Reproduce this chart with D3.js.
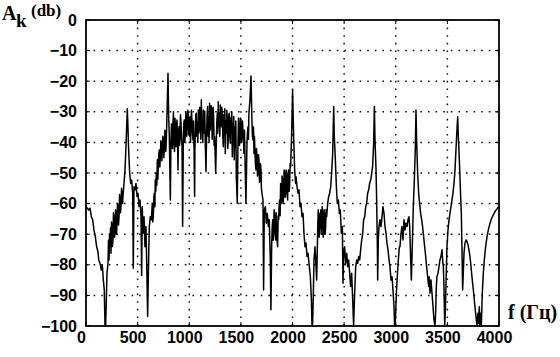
<!DOCTYPE html>
<html>
<head>
<meta charset="utf-8">
<script src="https://cdn.jsdelivr.net/npm/d3@7"></script>
<style>
  body { margin: 0; background: #fff; }
  .tick text { font-family: "Liberation Sans", Arial, sans-serif; font-weight: bold; font-size: 16px; fill: #000; }
  .label { font-family: "Liberation Serif", "Times New Roman", serif; font-weight: bold; fill: #000; }
</style>
</head>
<body>
<div id="chart"></div>
<script>
var svgWidth = 560;
var svgHeight = 357;

var margin = {top: 20, right: 61, bottom: 31, left: 86};
var width = svgWidth - margin.left - margin.right;
var height = svgHeight - margin.top - margin.bottom;

// tick values
var xTicks = [0, 500, 1000, 1500, 2000, 2500, 3000, 3500, 4000];
var yTicks = [0, -10, -20, -30, -40, -50, -60, -70, -80, -90, -100];

// spectrum, [frequency Hz, level dB]
var lowBand = [[0,-61.0],[13,-61.5],[26,-62.1],[39,-61.5],[52,-64.3],[65,-65.3],[77,-68.6],[90,-70.8],[103,-74.1],[116,-75.7],[123,-78.4],[136,-79.5],[148,-81.7],[158,-80.0],[168,-85.0],[177,-88.2],[184,-99.7],[190,-100],[197,-91.5],[203,-82.8],[213,-79.5],[218,-72.0],[223,-78.4],[228,-70.0],[232,-74.1],[237,-68.0],[242,-76.2],[247,-66.0],[252,-67.5],[256,-74.0],[261,-71.9],[266,-63.0],[271,-64.3],[276,-71.0],[281,-69.7],[286,-62.0],[291,-63.2],[296,-70.0],[300,-66.4],[305,-60.0],[310,-61.0],[315,-67.0],[320,-64.3],[325,-57.0],[329,-58.8],[334,-63.0],[339,-61.0],[344,-55.0],[349,-56.6],[354,-60.0],[358,-57.7],[368,-53.4],[378,-49.0],[387,-41.4],[394,-34.9],[400,-28.9],[407,-35.9],[413,-42.5],[423,-50.1],[433,-53.4],[442,-52.3],[452,-56.6],[458,-81.1],[465,-54.5],[475,-55.5],[484,-53.4],[494,-57.7],[504,-56.6],[513,-61.0],[523,-58.8],[533,-64.3],[539,-83.5],[545,-61.0],[552,-69.7],[562,-64.3],[571,-74.1],[581,-67.5],[591,-85.0],[597,-96.9],[604,-82.8],[613,-67.5],[623,-64.3],[633,-65.3],[642,-59.9],[647,-66.0],[652,-64.3],[657,-58.0],[662,-56.6],[667,-61.0],[671,-52.3],[676,-56.0],[681,-50.1],[686,-54.0],[691,-45.7],[696,-52.0],[700,-47.9],[705,-44.0],[710,-42.5],[715,-48.0],[720,-44.7],[725,-39.5],[730,-40.3],[735,-46.0],[739,-42.5],[744,-38.0],[749,-39.2],[754,-45.0],[759,-41.4],[764,-36.0],[768,-37.0],[773,-43.0],[778,-39.2],[788,-26.1],[794,-17.4],[800,-30.5],[807,-38.1],[817,-58.8],[823,-39.2],[828,-34.0],[833,-37.0],[838,-42.0],[842,-33.8],[847,-30.0],[852,-39.2],[857,-43.0],[862,-32.1],[867,-36.0],[872,-41.4],[876,-35.0],[881,-32.7],[886,-38.0],[891,-49.0],[896,-37.0],[901,-34.9],[905,-41.0],[910,-39.2],[915,-31.0],[920,-33.8],[925,-38.5],[930,-41.4],[936,-67.5],[943,-38.1],[947,-34.0],[952,-32.7],[957,-40.0],[962,-37.0],[967,-30.0],[972,-31.6],[976,-38.0],[981,-34.9],[986,-29.5],[991,-30.5],[996,-37.5]];

var midBand = [[1001,-33.8],[1004,-38.0],[1007,-31.6],[1012,-40.0],[1017,-34.9],[1021,-29.5],[1026,-32.7],[1031,-37.0],[1036,-39.2],[1041,-33.0],[1046,-41.4],[1052,-57.7],[1055,-42.0],[1059,-37.0],[1063,-31.0],[1068,-30.5],[1073,-38.0],[1078,-33.8],[1083,-40.0],[1088,-29.4],[1092,-37.0],[1097,-35.9],[1102,-28.5],[1107,-30.5],[1112,-39.0],[1117,-26.1],[1121,-36.0],[1126,-33.8],[1131,-40.0],[1136,-29.4],[1141,-37.0],[1146,-34.9],[1150,-29.8],[1155,-40.3],[1162,-49.6],[1168,-37.0],[1173,-31.0],[1178,-28.3],[1183,-38.0],[1188,-31.6],[1192,-40.0],[1197,-27.2],[1202,-36.0],[1207,-33.8],[1212,-28.0],[1217,-29.4],[1222,-39.0],[1227,-34.9],[1231,-28.5],[1236,-31.6],[1241,-41.0],[1246,-38.1],[1256,-50.1],[1262,-40.3],[1267,-33.0],[1272,-30.5],[1276,-37.0],[1281,-26.7],[1286,-35.0],[1291,-30.5],[1296,-38.0],[1301,-27.8],[1305,-33.0],[1310,-34.9],[1315,-28.5],[1320,-30.5],[1325,-38.0],[1330,-41.4],[1335,-31.0],[1340,-34.9],[1344,-29.0],[1349,-43.6],[1354,-33.0],[1359,-37.0],[1364,-29.5],[1369,-32.7],[1373,-42.0],[1378,-39.2],[1383,-31.0],[1388,-30.5],[1393,-38.0],[1398,-40.3],[1402,-32.0],[1407,-35.9],[1412,-30.0],[1417,-44.7],[1422,-34.0],[1427,-38.1],[1431,-31.5],[1436,-45.7],[1441,-35.0],[1446,-41.4],[1451,-33.0],[1456,-51.2],[1465,-59.9],[1472,-40.3],[1477,-32.0],[1482,-34.9],[1486,-41.0],[1491,-39.2],[1496,-32.0],[1501,-33.8],[1506,-40.0],[1511,-38.1],[1515,-33.0],[1520,-35.9],[1525,-39.0],[1530,-43.6],[1535,-36.0],[1540,-45.7],[1549,-59.9],[1559,-40.3],[1564,-37.0],[1569,-34.9],[1573,-39.0],[1578,-30.5],[1588,-26.1],[1598,-18.3],[1607,-32.7],[1612,-38.0],[1617,-39.2],[1622,-35.0],[1627,-43.6],[1631,-38.0],[1636,-42.5],[1641,-47.0],[1646,-49.0],[1651,-42.0],[1656,-44.7],[1661,-51.0],[1666,-50.1],[1670,-44.0],[1675,-45.7],[1680,-53.0],[1685,-52.3],[1690,-47.0],[1695,-49.0],[1699,-55.0],[1704,-56.6],[1714,-58.8],[1720,-88.2],[1727,-62.1],[1737,-61.0],[1746,-66.4],[1756,-63.2],[1766,-67.5],[1775,-65.3],[1785,-78.4],[1791,-94.7],[1798,-74.1],[1803,-68.0],[1808,-65.3],[1812,-72.0],[1817,-69.7],[1822,-62.0],[1827,-64.3],[1832,-70.0],[1837,-71.9],[1841,-63.0],[1846,-67.5],[1851,-72.0],[1856,-74.1],[1861,-64.0],[1866,-65.3],[1870,-61.0],[1875,-58.8],[1880,-64.0],[1885,-53.4],[1890,-60.0],[1895,-58.8],[1899,-51.0],[1904,-52.3],[1909,-60.0],[1914,-56.6],[1919,-49.0],[1924,-50.1],[1928,-58.0],[1933,-56.6],[1938,-49.0],[1943,-51.2],[1948,-57.0],[1953,-58.8],[1957,-50.0],[1962,-49.0],[1967,-56.0],[1972,-54.5],[1977,-47.0],[1982,-47.9],[1991,-38.1],[2001,-22.9],[2011,-38.1],[2021,-49.0],[2030,-53.4]];

var highBand = [[2034,-51.2],[2044,-54.5],[2053,-56.6],[2063,-55.5],[2073,-61.0],[2082,-59.9],[2092,-64.3],[2102,-63.2],[2111,-69.7],[2121,-74.1],[2131,-72.9],[2141,-77.3],[2150,-76.2],[2163,-80.6],[2173,-83.9],[2183,-91.5],[2189,-100],[2195,-99.1],[2202,-89.3],[2208,-78.4],[2218,-74.1],[2228,-80.6],[2234,-85.0],[2244,-68.8],[2249,-62.0],[2254,-66.4],[2258,-71.0],[2263,-63.2],[2268,-68.0],[2273,-62.1],[2278,-70.0],[2283,-67.5],[2287,-61.0],[2292,-63.2],[2297,-71.0],[2302,-69.7],[2307,-62.0],[2312,-64.3],[2316,-70.0],[2321,-67.5],[2326,-62.0],[2331,-64.3],[2341,-59.9],[2350,-57.7],[2360,-56.6],[2370,-54.5],[2379,-50.1],[2389,-43.6],[2399,-28.3],[2405,-38.1],[2415,-45.7],[2425,-54.5],[2434,-59.9],[2444,-58.8],[2454,-63.2],[2463,-62.1],[2473,-69.7],[2483,-67.5],[2489,-86.0],[2496,-76.2],[2505,-74.1],[2515,-79.5],[2525,-76.2],[2534,-80.6],[2544,-78.4],[2554,-82.8],[2563,-87.1],[2573,-82.8],[2583,-91.5],[2592,-100],[2602,-89.3],[2612,-80.6],[2622,-78.4],[2631,-79.5],[2641,-77.3],[2651,-78.4],[2660,-75.1],[2670,-71.9],[2680,-69.7],[2689,-65.3],[2699,-64.3],[2709,-61.0],[2718,-59.9],[2728,-56.6],[2738,-55.5],[2747,-53.4],[2757,-52.3],[2767,-50.1],[2776,-47.9],[2786,-40.3],[2793,-28.3],[2799,-39.2],[2809,-49.0],[2815,-58.8],[2822,-74.1],[2825,-85.0],[2831,-71.9],[2838,-67.5],[2847,-65.3],[2857,-67.5],[2867,-64.3],[2876,-61.0],[2886,-63.2],[2896,-67.5],[2906,-69.7],[2915,-73.0],[2925,-75.1],[2935,-78.4],[2944,-80.6],[2954,-85.0],[2964,-83.9],[2973,-88.2],[2983,-93.7],[2989,-100],[2996,-99.1],[3006,-89.3],[3015,-83.9],[3025,-78.4],[3035,-74.1]];

var topBand = [[3041,-74.1],[3051,-69.7],[3060,-67.5],[3070,-71.9],[3080,-65.3],[3089,-68.6],[3099,-66.4],[3109,-67.5],[3118,-65.3],[3128,-64.3],[3135,-67.5],[3141,-74.1],[3151,-85.0],[3160,-74.1],[3170,-61.0],[3180,-52.3],[3190,-41.4],[3196,-29.4],[3202,-39.2],[3212,-50.1],[3222,-56.6],[3231,-59.9],[3241,-63.2],[3251,-65.3],[3260,-67.5],[3270,-70.8],[3280,-74.1],[3290,-77.3],[3299,-80.6],[3309,-83.9],[3319,-87.1],[3325,-83.9],[3332,-89.3],[3341,-85.0],[3351,-89.3],[3361,-93.7],[3370,-98.0],[3380,-100],[3386,-95.8],[3393,-87.1],[3399,-83.9],[3409,-82.8],[3419,-80.6],[3428,-78.4],[3438,-77.3],[3448,-75.1],[3454,-78.4],[3461,-80.6],[3467,-87.1],[3474,-100],[3480,-95.8],[3486,-87.1],[3496,-74.1],[3506,-68.6],[3516,-65.3],[3525,-63.2],[3535,-61.0],[3545,-58.8],[3554,-56.6],[3564,-53.4],[3574,-49.0],[3583,-42.5],[3593,-35.9],[3600,-31.6],[3606,-38.1],[3616,-45.7],[3625,-54.5],[3635,-63.2],[3641,-74.1],[3648,-88.2],[3654,-82.8],[3661,-76.2],[3670,-73.0],[3680,-71.9],[3690,-72.4],[3700,-73.5],[3709,-75.1],[3719,-77.3],[3729,-80.6],[3738,-83.9],[3748,-87.1],[3758,-90.4],[3767,-93.7],[3777,-96.9],[3787,-100],[3796,-95.8],[3803,-99.1],[3809,-93.7],[3816,-100],[3822,-95.8],[3829,-100],[3838,-89.3],[3848,-82.8],[3858,-78.4],[3867,-75.1],[3877,-72.4],[3887,-70.2],[3900,-68.1],[3913,-66.4],[3929,-64.8],[3945,-63.7],[3961,-62.6],[3977,-61.9],[3993,-61.2],[4000,-61.0]];

var spectrum = lowBand.concat(midBand, highBand, topBand);

var svg = d3.select("#chart")
  .append("svg")
  .attr("width", svgWidth)
  .attr("height", svgHeight);

var chartGroup = svg.append("g")
  .attr("transform", `translate(${margin.left}, ${margin.top})`);

var xScale = d3.scaleLinear().domain([0, 4000]).range([0, width]);
var yScale = d3.scaleLinear().domain([-100, 0]).range([height, 0]);

// dotted grid
chartGroup.append("g")
  .selectAll("line")
  .data(xTicks.slice(1, -1))
  .enter()
  .append("line")
  .attr("x1", d => xScale(d))
  .attr("x2", d => xScale(d))
  .attr("y1", 0)
  .attr("y2", height)
  .attr("stroke", "#111")
  .attr("stroke-width", 1.5)
  .attr("stroke-dasharray", "1.6,6");

chartGroup.append("g")
  .selectAll("line")
  .data(yTicks.slice(1, -1))
  .enter()
  .append("line")
  .attr("x1", 0)
  .attr("x2", width)
  .attr("y1", d => yScale(d))
  .attr("y2", d => yScale(d))
  .attr("stroke", "#111")
  .attr("stroke-width", 1.5)
  .attr("stroke-dasharray", "1.6,6");

// axes (labels only, ticks drawn inward)
var bottomAxis = d3.axisBottom(xScale).tickValues(xTicks).tickFormat(d3.format("d")).tickSize(0).tickPadding(6);
var leftAxis = d3.axisLeft(yScale).tickValues(yTicks).tickFormat(d3.format("d")).tickSize(0).tickPadding(9);

var xAxis = chartGroup.append("g")
  .attr("transform", `translate(0, ${height})`)
  .call(bottomAxis);
xAxis.select(".domain").remove();
xAxis.selectAll("text").attr("dx", -5);

var yAxis = chartGroup.append("g")
  .call(leftAxis);
yAxis.select(".domain").remove();

// inward tick marks on all four sides
var tickLen = 4;
xTicks.forEach(function(t) {
  chartGroup.append("line").attr("x1", xScale(t)).attr("x2", xScale(t))
    .attr("y1", height).attr("y2", height - tickLen).attr("stroke", "#000");
  chartGroup.append("line").attr("x1", xScale(t)).attr("x2", xScale(t))
    .attr("y1", 0).attr("y2", tickLen).attr("stroke", "#000");
});
yTicks.forEach(function(t) {
  chartGroup.append("line").attr("x1", 0).attr("x2", tickLen)
    .attr("y1", yScale(t)).attr("y2", yScale(t)).attr("stroke", "#000");
  chartGroup.append("line").attr("x1", width).attr("x2", width - tickLen)
    .attr("y1", yScale(t)).attr("y2", yScale(t)).attr("stroke", "#000");
});

// spectrum line
svg.append("clipPath").attr("id", "plotClip")
  .append("rect").attr("width", width).attr("height", height + 1);

var line = d3.line()
  .x(d => xScale(d[0]))
  .y(d => yScale(d[1]));

chartGroup.append("path")
  .datum(spectrum)
  .attr("clip-path", "url(#plotClip)")
  .attr("fill", "none")
  .attr("stroke", "#000")
  .attr("stroke-width", 1.5)
  .attr("stroke-linejoin", "round")
  .attr("d", line);

// frame
chartGroup.append("rect")
  .attr("width", width)
  .attr("height", height)
  .attr("fill", "none")
  .attr("stroke", "#000")
  .attr("stroke-width", 1.8);

// axis titles
var yTitle = svg.append("text").attr("class", "label");
yTitle.append("tspan").attr("x", 2).attr("y", 20).attr("font-size", "20px").text("A");
yTitle.append("tspan").attr("x", 16).attr("y", 26.5).attr("font-size", "19px").text("k");
yTitle.append("tspan").attr("x", 31).attr("y", 16).attr("font-size", "17px").text("(db)");

svg.append("text")
  .attr("class", "label")
  .attr("x", 508)
  .attr("y", 319)
  .attr("font-size", "20px")
  .text("f (Гц)");
</script>
</body>
</html>
